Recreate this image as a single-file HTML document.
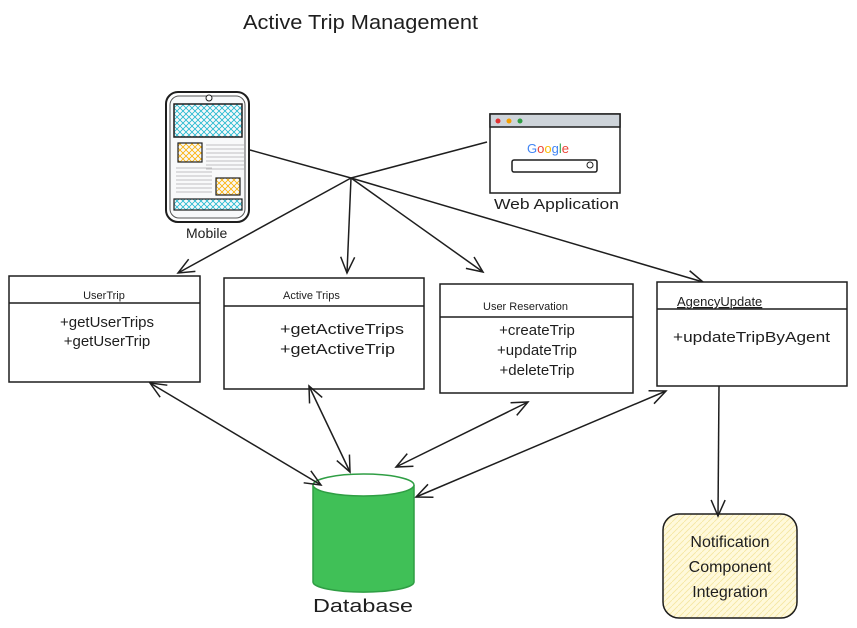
<!DOCTYPE html>
<html><head><meta charset="utf-8"><style>
html,body{margin:0;padding:0;background:#fff;}
svg{display:block;}
text{font-family:"Comic Sans MS","Liberation Sans",sans-serif;fill:#1e1e1e;}
</style></head><body>
<svg width="857" height="628" viewBox="0 0 857 628" xmlns="http://www.w3.org/2000/svg">
<defs>
<marker id="a" viewBox="0 0 20 20" refX="18" refY="10" markerWidth="20" markerHeight="20" markerUnits="userSpaceOnUse" orient="auto-start-reverse">
<path d="M2,3 L18,10 L2,17" fill="none" stroke="#1e1e1e" stroke-width="1.5"/>
</marker>
<pattern id="hb" width="6" height="6" patternUnits="userSpaceOnUse"><path d="M0,0 L6,6 M6,0 L0,6" stroke="#22b8cf" stroke-width="0.8"/></pattern>
<pattern id="ho" width="6" height="6" patternUnits="userSpaceOnUse"><path d="M0,0 L6,6 M6,0 L0,6" stroke="#fab005" stroke-width="0.8"/></pattern>
<pattern id="hy" width="6" height="6" patternUnits="userSpaceOnUse"><rect width="6" height="6" fill="#fff9db"/><path d="M0,6 L6,0" stroke="#f5e6a0" stroke-width="0.8"/></pattern>
</defs>

<text x="243" y="29" font-size="20" textLength="235" lengthAdjust="spacingAndGlyphs">Active Trip Management</text>

<!-- Mobile -->
<rect x="166" y="92" width="83" height="130" rx="12" fill="#fff" stroke="#1e1e1e" stroke-width="2"/>
<rect x="170" y="96" width="75" height="122" rx="9" fill="#f8f9fa" stroke="#555" stroke-width="1"/>
<circle cx="209" cy="98" r="3" fill="#fff" stroke="#1e1e1e"/>
<rect x="174" y="104" width="68" height="33" fill="url(#hb)" stroke="#1e1e1e" stroke-width="1.5"/>
<rect x="178" y="143" width="24" height="19" fill="url(#ho)" stroke="#1e1e1e" stroke-width="1.2"/>
<rect x="216" y="178" width="24" height="17" fill="url(#ho)" stroke="#1e1e1e" stroke-width="1.2"/>
<rect x="174" y="199" width="68" height="11" fill="url(#hb)" stroke="#1e1e1e" stroke-width="1.2"/>
<g stroke="#888" stroke-width="0.6">
<path d="M206,145h38M206,149h38M206,153h38M206,157h38M206,161h38M206,165h38M206,169h38M176,168h36M176,172h36M176,176h36M176,180h36M176,184h36M176,188h36M176,192h36"/>
</g>
<text x="186" y="238" font-size="14">Mobile</text>

<!-- Web app -->
<rect x="490" y="114" width="130" height="79" fill="#fff" stroke="#1e1e1e" stroke-width="1.5"/>
<rect x="490" y="114" width="130" height="13" fill="#ced4da" stroke="#1e1e1e" stroke-width="1.5"/>
<circle cx="498" cy="121" r="2.5" fill="#e03131"/><circle cx="509" cy="121" r="2.5" fill="#f59f00"/><circle cx="520" cy="121" r="2.5" fill="#2f9e44"/>
<text x="527" y="153" font-size="13"><tspan fill="#4285f4">G</tspan><tspan fill="#ea4335">o</tspan><tspan fill="#fbbc05">o</tspan><tspan fill="#4285f4">g</tspan><tspan fill="#34a853">l</tspan><tspan fill="#ea4335">e</tspan></text>
<rect x="512" y="160" width="85" height="12" rx="2" fill="#fff" stroke="#1e1e1e" stroke-width="1.5"/>
<circle cx="590" cy="165" r="3" fill="none" stroke="#1e1e1e"/>
<text x="494" y="209" font-size="15" textLength="125" lengthAdjust="spacingAndGlyphs">Web Application</text>

<!-- hub lines -->
<g stroke="#1e1e1e" stroke-width="1.5" fill="none">
<path d="M250,150 L351,178"/>
<path d="M487,142 L351,178"/>
<path d="M351,178 L178,273" marker-end="url(#a)"/>
<path d="M351,178 L347,273" marker-end="url(#a)"/>
<path d="M351,178 L483,272" marker-end="url(#a)"/>
<path d="M351,178 L703,282" marker-end="url(#a)"/>
</g>

<!-- boxes -->
<g fill="#fff" stroke="#1e1e1e" stroke-width="1.5">
<rect x="9" y="276" width="191" height="106"/>
<path d="M9,303 H200"/>
<rect x="224" y="278" width="200" height="111"/>
<path d="M224,306 H424"/>
<rect x="440" y="284" width="193" height="109"/>
<path d="M440,317 H633"/>
<rect x="657" y="282" width="190" height="104"/>
<path d="M657,309 H847"/>
</g>
<text x="104" y="299" font-size="11" text-anchor="middle">UserTrip</text>
<text x="107" y="327" font-size="15" text-anchor="middle">+getUserTrips</text>
<text x="107" y="346" font-size="15" text-anchor="middle">+getUserTrip</text>
<text x="283" y="299" font-size="11">Active Trips</text>
<text x="280" y="334" font-size="15" textLength="124" lengthAdjust="spacingAndGlyphs">+getActiveTrips</text>
<text x="280" y="354" font-size="15" textLength="115" lengthAdjust="spacingAndGlyphs">+getActiveTrip</text>
<text x="483" y="310" font-size="11">User Reservation</text>
<text x="537" y="335" font-size="15" text-anchor="middle">+createTrip</text>
<text x="537" y="355" font-size="15" text-anchor="middle">+updateTrip</text>
<text x="537" y="375" font-size="15" text-anchor="middle">+deleteTrip</text>
<text x="677" y="306" font-size="13" text-decoration="underline">AgencyUpdate</text>
<text x="673" y="342" font-size="15" textLength="157" lengthAdjust="spacingAndGlyphs">+updateTripByAgent</text>

<!-- DB -->
<path d="M313,485 V582 A50,10 0 0 0 414,582 V485" fill="#40c057" stroke="#2f9e44" stroke-width="1.5"/>
<ellipse cx="363.5" cy="485" rx="50.5" ry="11" fill="#fff" stroke="#2f9e44" stroke-width="1.5"/>
<text x="313" y="612" font-size="18" textLength="100" lengthAdjust="spacingAndGlyphs">Database</text>

<!-- Notification -->
<rect x="663" y="514" width="134" height="104" rx="16" fill="url(#hy)" stroke="#1e1e1e" stroke-width="1.5"/>
<text x="730" y="547" font-size="16" text-anchor="middle">Notification</text>
<text x="730" y="572" font-size="16" text-anchor="middle">Component</text>
<text x="730" y="597" font-size="16" text-anchor="middle">Integration</text>

<!-- DB arrows -->
<g stroke="#1e1e1e" stroke-width="1.5" fill="none">
<path d="M150,383 L321,485" marker-start="url(#a)" marker-end="url(#a)"/>
<path d="M309,386 L350,472" marker-start="url(#a)" marker-end="url(#a)"/>
<path d="M528,402 L396,467" marker-start="url(#a)" marker-end="url(#a)"/>
<path d="M666,391 L416,497" marker-start="url(#a)" marker-end="url(#a)"/>
<path d="M719,386 L718,516" marker-end="url(#a)"/>
</g>
</svg>
</body></html>
